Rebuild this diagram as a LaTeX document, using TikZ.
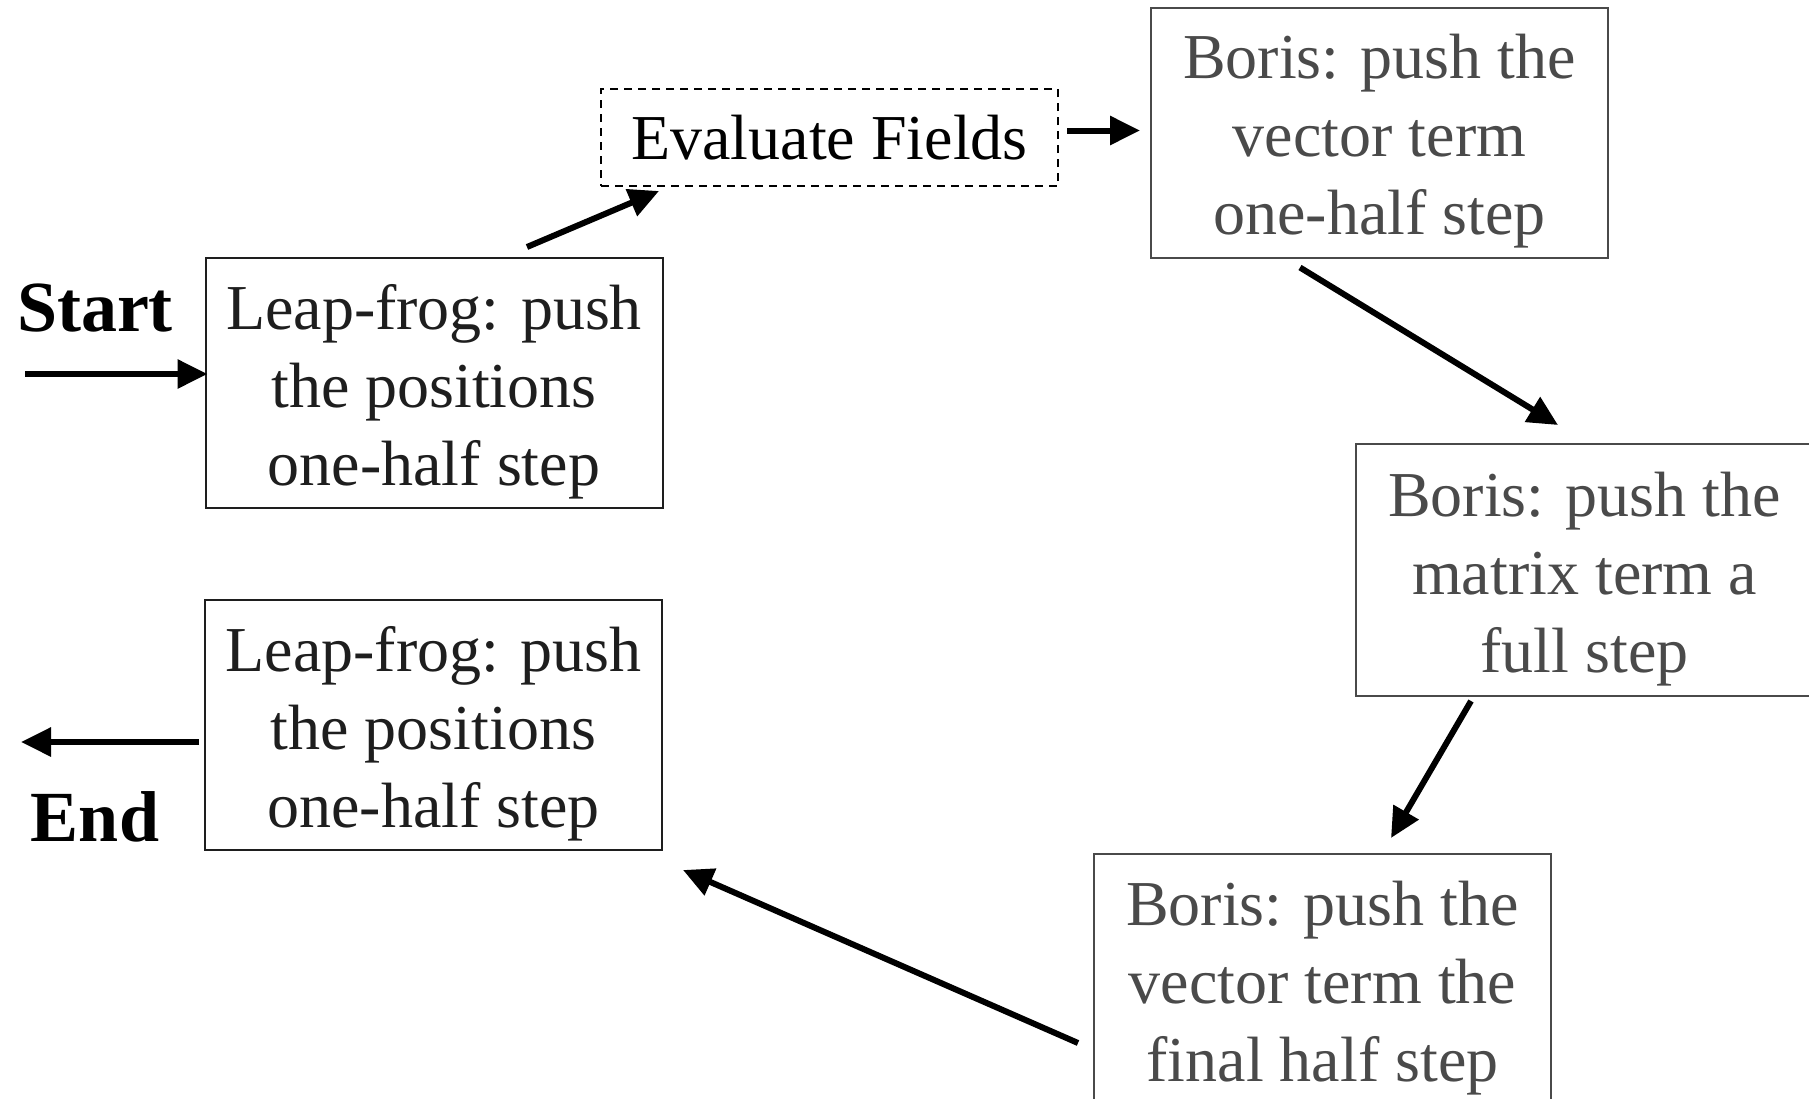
\documentclass[tikz,border=0pt]{standalone}
\usepackage{fontspec}
\setmainfont{Liberation Serif}
\usetikzlibrary{calc,arrows.meta}
\definecolor{borisgray}{HTML}{4A4A4A}
\definecolor{lfgray}{HTML}{1E1E1E}
\newcommand{\boxstrut}{\rule{0pt}{31pt}}
\begin{document}
\begin{tikzpicture}[x=0.5pt,y=-0.5pt, >={Triangle[length=15pt,width=14pt]}]
	\useasboundingbox (0,0) rectangle (1809,1098);
	% boxes of the step
	\begin{scope}[every node/.style={draw, line width=1pt, inner sep=0pt, minimum width=228.5pt, minimum height=125pt, align=center, font=\fontsize{32}{39}\selectfont}]
		\node[draw=lfgray, text=lfgray] (lf1) at (434,383) {\boxstrut Leap-frog: push\\the positions\\one-half step};
		\node[draw=black, dash pattern=on 4pt off 3pt, minimum height=48.5pt] (ef) at (829.5,137.5) {Evaluate Fields};
		\node[draw=borisgray, text=borisgray] (b1) at (1379.5,132.5) {\boxstrut Boris: push the\\vector term\\one-half step};
		\node[draw=borisgray, text=borisgray, minimum height=126pt] (b2) at (1584.5,570) {\boxstrut Boris: push the\\matrix term a\\full step};
		\node[draw=borisgray, text=borisgray] (b3) at (1322.5,979) {\boxstrut Boris: push the\\vector term the\\final half step};
		\node[draw=lfgray, text=lfgray] (lf2) at (433.5,725) {\boxstrut Leap-frog: push\\the positions\\one-half step};
	\end{scope}
	\node[font=\fontsize{36}{40}\selectfont\bfseries] (start) at (95,308) {Start};
	\node[font=\fontsize{36}{40}\selectfont\bfseries] (end) at (95,817) {End};
	\coordinate (in) at (25,374);
	\coordinate (out) at (21,742);
	% arrows
	\draw[->, line width=3pt] (in) -- ($(lf1.west)+(3,-9)$);
	\draw[->, line width=3pt] ($(lf1.north)+(93,-10)$) -- ($(ef.south)+(-170.5,4)$);
	\draw[->, line width=3pt] ($(ef.east)+(8,-7)$) -- ($(b1.west)+(-10,-2)$);
	\draw[->, line width=3pt] ($(b1.south)+(-79.5,9)$) -- ($(b2.north)+(-26.5,-18)$);
	\draw[->, line width=3pt] ($(b2.south)+(-113.5,4)$) -- ($(b3.north)+(68.5,-15)$);
	\draw[->, line width=3pt] ($(b3.west)+(-15,64)$) -- ($(lf2.south east)+(20,19)$);
	\draw[->, line width=3pt] ($(lf2.west)+(-5,17)$) -- (out);
\end{tikzpicture}
\end{document}
